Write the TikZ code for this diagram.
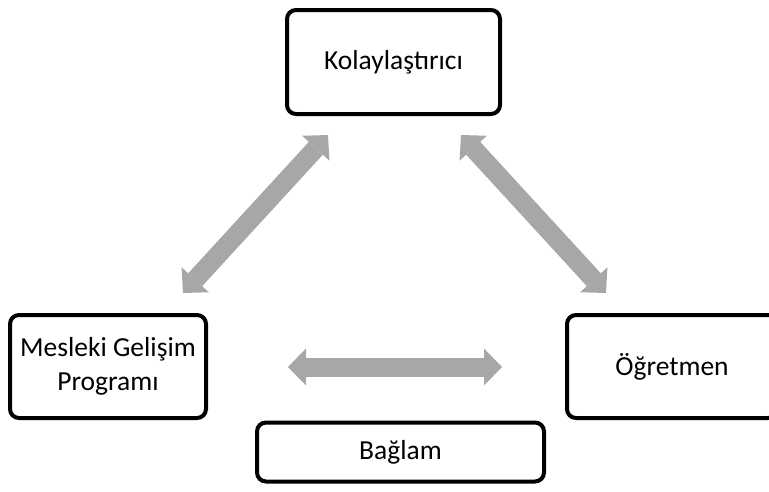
\documentclass[tikz,border=0pt]{standalone}
\usepackage{fontspec}
\setmainfont{Carlito}
\usetikzlibrary{arrows.meta}
\definecolor{arrowgray}{RGB}{167,167,167}
\tikzset{
  box/.style={draw=black, fill=white, line width=4pt, rounded corners=9pt,
    inner sep=0pt, align=center, font=\fontsize{27.5}{33.5}\selectfont},
  garrow/.style={draw=arrowgray, line width=19pt,
    {Triangle[length=18pt,width=37pt,line width=0pt]}-{Triangle[length=18pt,width=37pt,line width=0pt]}}
}
\begin{document}
\begin{tikzpicture}[x=1pt,y=-1pt]
\useasboundingbox (0,0) rectangle (769,491);
\node[box, minimum width=213pt, minimum height=104pt] (kol) at (393.5,62) {Kolaylaştırıcı};
\node[box, minimum width=196pt, minimum height=103pt] (mgp) at (108,366.5) {Mesleki Gelişim\\Programı};
\node[box, minimum width=210pt, minimum height=103pt] (ogr) at (672,366.5) {Öğretmen};
\node[box, minimum width=287pt, minimum height=59pt] (bag) at (400.5,452) {Bağlam};
\coordinate (l1) at (183,293);
\coordinate (l2) at (328,135);
\coordinate (r1) at (461,135);
\coordinate (r2) at (606,293);
\coordinate (h1) at (288,367);
\coordinate (h2) at (502,367);
\draw[garrow] (l1) -- (l2);
\draw[garrow] (r1) -- (r2);
\draw[garrow] (h1) -- (h2);
\end{tikzpicture}
\end{document}
